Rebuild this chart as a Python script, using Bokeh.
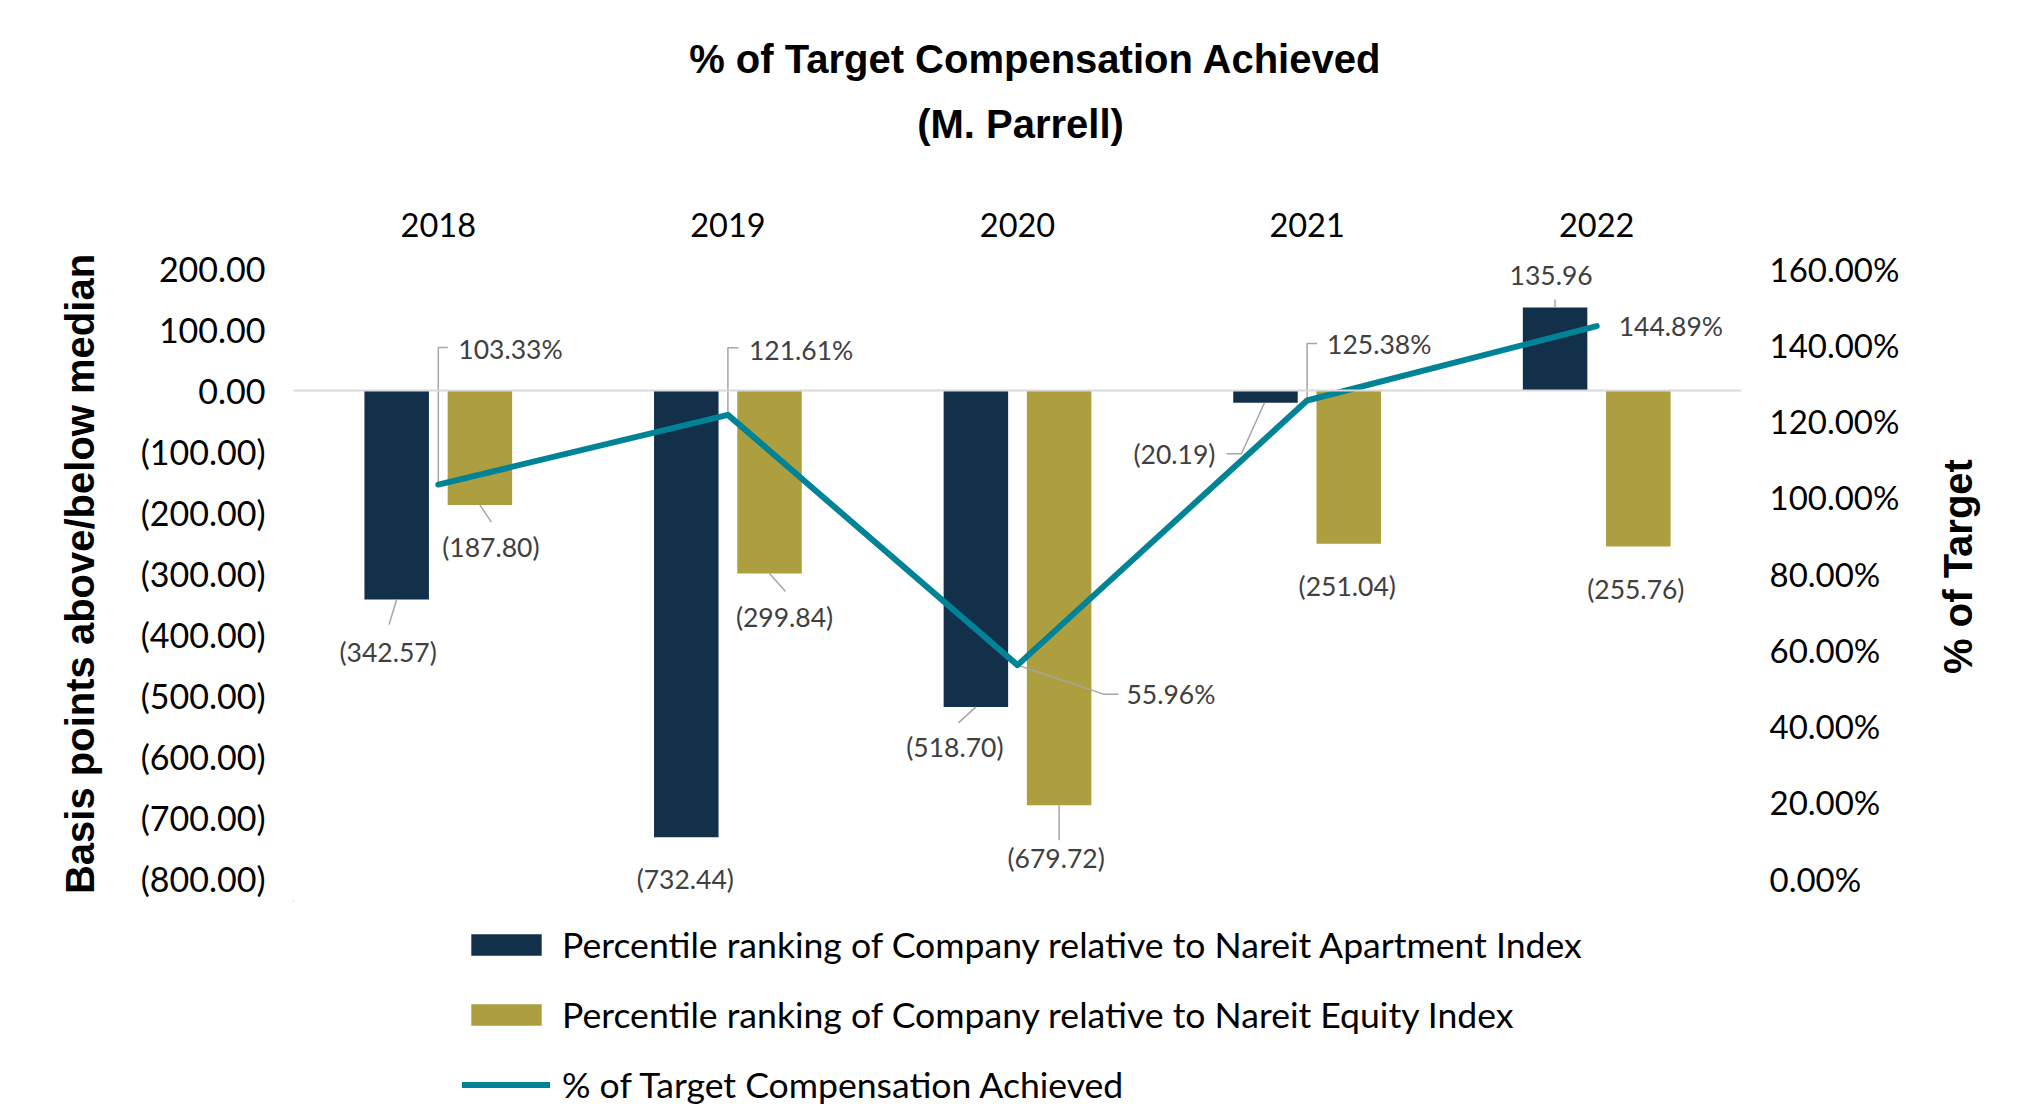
import math
from bokeh.plotting import figure
from bokeh.layouts import column, row
from bokeh.core.properties import value
from bokeh.models import (Range1d, LinearAxis, FixedTicker, Span, LabelSet, Label,
                          ColumnDataSource, Legend, LegendItem)
from bokeh.embed import file_html
from bokeh.resources import INLINE

# ---------------- data ----------------
years = ["2018", "2019", "2020", "2021", "2022"]
apartment = [-342.57, -732.44, -518.70, -20.19, 135.96]   # vs Nareit Apartment Index
equity = [-187.80, -299.84, -679.72, -251.04, -255.76]    # vs Nareit Equity Index
pct_target = [103.33, 121.61, 55.96, 125.38, 144.89]      # % of target compensation
left_ticks = [-800, -700, -600, -500, -400, -300, -200, -100, 0, 100, 200]
right_ticks = [0, 20, 40, 60, 80, 100, 120, 140, 160]
title_lines = ["% of Target Compensation Achieved", "(M. Parrell)"]
left_title = "Basis points above/below median"
right_title = "% of Target"
series_names = ["Percentile ranking of Company relative to Nareit Apartment Index",
                "Percentile ranking of Company relative to Nareit Equity Index",
                "% of Target Compensation Achieved"]

# ---------------- styling / layout ----------------
DARK = "#13304A"
GOLD = "#AD9E40"
TEAL = "#008396"
LEAD = "#A6A6A6"
LBL = "#404040"
FONT = "Lato"
BFONT = "Liberation Sans"

W, W_STRIP, H_ALL = 1930, 100, 1111
H_TITLE, H_MAIN = 160, 740                       # page y: title 0-160, chart 160-900, legend 900-1111
H_LEG = H_ALL - H_TITLE - H_MAIN
FL, FR = 293, 1741                               # frame left/right (px)
FT = 247 - H_TITLE                               # frame top inside the main figure
FW = FR - FL
TICK_TOP_Y, TICK_BOT_Y = 268 - H_TITLE, 878 - H_TITLE   # y of the 200 and -800 ticks in the main figure
X0, X1 = 0, 5
PY = (TICK_BOT_Y - TICK_TOP_Y) / 1000.0
Y1 = 200 + (TICK_TOP_Y - FT) / PY
Y0 = -800 - (H_MAIN - TICK_BOT_Y) / PY
P0, P1 = (Y0 + 800) / 1000 * 160, (Y1 + 800) / 1000 * 160
PX = FW / (X1 - X0)
PP = PY * 1000 / 160
DODGE = 0.1437
BAR_W = 0.2227

centers = [i + 0.5 for i in range(len(years))]


def blank_fig(w, h, x0, x1, **kw):
    f = figure(width=w, height=h, output_backend="svg", toolbar_location=None,
               x_range=Range1d(x0, x1), y_range=Range1d(h, 0),
               x_axis_location=None, y_axis_location=None, **kw)
    f.outline_line_color = None
    f.grid.visible = False
    f.background_fill_color = "white"
    f.border_fill_color = "white"
    return f


# ---------------- title ----------------
tf = blank_fig(W, H_TITLE, FL, FR, min_border_left=FL, min_border_right=W - FR,
               min_border_top=0, min_border_bottom=0)
for txt, (tx, ty) in zip(title_lines, [(1035, 58.5), (1020, 123.5)]):
    tf.add_layout(Label(x=tx, y=ty, text=txt, text_align="center", text_baseline="middle",
                        text_font=BFONT, text_font_style="bold", text_font_size="40px",
                        text_color="black"))

# ---------------- main chart ----------------
p = figure(width=W, height=H_MAIN, output_backend="svg", toolbar_location=None,
           x_range=Range1d(X0, X1), y_range=Range1d(Y0, Y1),
           x_axis_location="above", y_axis_location="left",
           min_border_left=FL, min_border_right=W - FR,
           min_border_top=FT, min_border_bottom=0)
p.extra_y_ranges = {"pct": Range1d(P0, P1)}
p.outline_line_color = None
p.grid.visible = False
p.background_fill_color = "white"
p.border_fill_color = "white"

p.add_layout(Span(location=0, dimension="width", line_color="#D9D9D9", line_width=2))

r_apt = p.vbar(x=[c - DODGE for c in centers], top=apartment, bottom=0, width=BAR_W,
               fill_color=DARK, line_color=None)
r_eq = p.vbar(x=[c + DODGE for c in centers], top=equity, bottom=0, width=BAR_W,
              fill_color=GOLD, line_color=None)

top_ax = p.xaxis[0]
top_ax.ticker = FixedTicker(ticks=centers)
top_ax.major_label_overrides = {c: y for c, y in zip(centers, years)}
top_ax.axis_line_color = None
top_ax.major_tick_line_color = None
top_ax.minor_tick_line_color = None
top_ax.major_label_text_font = FONT
top_ax.major_label_text_font_size = "32.5px"
top_ax.major_label_text_color = "black"
top_ax.major_label_standoff = 5


def neg_fmt(v):
    return f"({abs(v):.2f})" if v < 0 else f"{v:.2f}"


left_ax = p.yaxis[0]
left_ax.ticker = FixedTicker(ticks=left_ticks)
left_ax.major_label_overrides = {t: neg_fmt(t) for t in left_ticks}
left_ax.axis_line_color = None
left_ax.major_tick_line_color = None
left_ax.minor_tick_line_color = None
left_ax.major_label_text_font = FONT
left_ax.major_label_text_font_size = "34px"
left_ax.major_label_text_color = "black"
left_ax.major_label_standoff = 22
left_ax.axis_label = left_title
left_ax.axis_label_text_font = BFONT
left_ax.axis_label_text_font_style = "bold"
left_ax.axis_label_text_font_size = "40px"
left_ax.axis_label_text_color = "black"
left_ax.axis_label_standoff = 36

right_ax = LinearAxis(y_range_name="pct", ticker=FixedTicker(ticks=right_ticks))
right_ax.major_label_overrides = {t: f"{t:.2f}%" for t in right_ticks}
right_ax.axis_line_color = None
right_ax.major_tick_line_color = None
right_ax.minor_tick_line_color = None
right_ax.major_label_text_font = FONT
right_ax.major_label_text_font_size = "33px"
right_ax.major_label_text_color = "black"
right_ax.major_label_standoff = 22
p.add_layout(right_ax, "right")

# data labels & leader lines: offsets in screen px (dx right, dy down) from each bar end / line point
dark_lbl_off = [(-8.5, 52.7), (-1, 42), (-21, 40), (-91, 51), (-4, -32)]
gold_lbl_off = [(11, 42), (15, 44), (-3, 53), (-1.5, 42), (-2.5, 42)]
line_lbl_off = [(20, -136), (21, -65), (109, 29), (20, -56), (22, 0)]
dark_lead = [[(0, 0), (-7.6, 25)], None, [(0, 0), (-17.5, 16)],
             [(-1, 0), (-24, 51), (-39, 51)], [(0, 0), (0, -8)]]
gold_lead = [[(0, 0), (11.5, 17)], [(0, 0), (16, 18)], [(0, 0), (0, 35)], None, None]
line_lead = [[(0, 0), (0, -137), (9.5, -137)], [(0, 0), (0, -67), (10.5, -67)],
             [(0, 0), (86, 29), (101, 29)], [(0, 0), (0, -57), (10, -57)], None]

bar_x, bar_y, bar_t = [], [], []
lead_xs, lead_ys = [], []
for series, dodge, offs, leads in ((apartment, -DODGE, dark_lbl_off, dark_lead),
                                   (equity, DODGE, gold_lbl_off, gold_lead)):
    for c, v, (dx, dy), ld in zip(centers, series, offs, leads):
        ax, ay = c + dodge, v
        bar_x.append(ax + dx / PX)
        bar_y.append(ay - dy / PY)
        bar_t.append(neg_fmt(v))
        if ld:
            lead_xs.append([ax + ox / PX for ox, oy in ld])
            lead_ys.append([ay - oy / PY for ox, oy in ld])

p.multi_line(xs=lead_xs, ys=lead_ys, line_color=LEAD, line_width=1.5)

ln_x, ln_y, ln_t = [], [], []
pl_xs, pl_ys = [], []
for c, v, (dx, dy), ld in zip(centers, pct_target, line_lbl_off, line_lead):
    ln_x.append(c + dx / PX)
    ln_y.append(v - dy / PP)
    ln_t.append(f"{v:.2f}%")
    if ld:
        pl_xs.append([c + ox / PX for ox, oy in ld])
        pl_ys.append([v - oy / PP for ox, oy in ld])

p.multi_line(xs=pl_xs, ys=pl_ys, y_range_name="pct", line_color=LEAD, line_width=1.5)

r_line = p.line(x=centers, y=pct_target, y_range_name="pct", line_color=TEAL,
                line_width=6, line_cap="round", line_join="round")

p.add_layout(LabelSet(x="x", y="y", text="t", source=ColumnDataSource(dict(x=bar_x, y=bar_y, t=bar_t)),
                      text_align="center", text_baseline="middle", text_font=value(FONT),
                      text_font_size="26.5px", text_color=LBL))
p.add_layout(LabelSet(x="x", y="y", text="t", y_range_name="pct",
                      source=ColumnDataSource(dict(x=ln_x, y=ln_y, t=ln_t)),
                      text_align="left", text_baseline="middle", text_font=value(FONT),
                      text_font_size="26.5px", text_color=LBL))

# ---------------- legend (own strip under the chart, same glyph styles) ----------------
lf = blank_fig(W, H_LEG, FL, FR, min_border_left=FL, min_border_right=W - FR,
               min_border_top=0, min_border_bottom=0)
OFF = -10000  # swatch renderers sit outside the visible range; only their legend glyphs show
k_apt = lf.vbar(x=[OFF], top=[1], bottom=0, width=1, fill_color=DARK, line_color=None)
k_eq = lf.vbar(x=[OFF], top=[1], bottom=0, width=1, fill_color=GOLD, line_color=None)
k_line = lf.line(x=[OFF, OFF + 1], y=[1, 1], line_color=TEAL, line_width=6, line_cap="round")
legend = Legend(items=[LegendItem(label=n, renderers=[r]) for n, r in
                       zip(series_names, [k_apt, k_eq, k_line])],
                location=(169, 5), orientation="vertical")
legend.border_line_color = None
legend.background_fill_alpha = 0
legend.padding = 0
legend.margin = 0
legend.glyph_width = 88
legend.glyph_height = 27
legend.label_standoff = 12
legend.spacing = 27
legend.label_text_font = FONT
legend.label_text_font_size = "35.6px"
legend.label_text_color = "black"
legend.label_text_baseline = "middle"
lf.add_layout(legend)

# ---------------- right-hand axis title strip ----------------
sf = blank_fig(W_STRIP, H_ALL, 0, W_STRIP, min_border=0)
sf.add_layout(Label(x=1957 - W, y=566, text=right_title, angle=math.pi / 2,
                    text_align="center", text_baseline="middle",
                    text_font=BFONT, text_font_style="bold", text_font_size="40px",
                    text_color="black"))

layout = row(column(tf, p, lf, spacing=0), sf, spacing=0)
open("out.html", "w").write(file_html(layout, INLINE))
